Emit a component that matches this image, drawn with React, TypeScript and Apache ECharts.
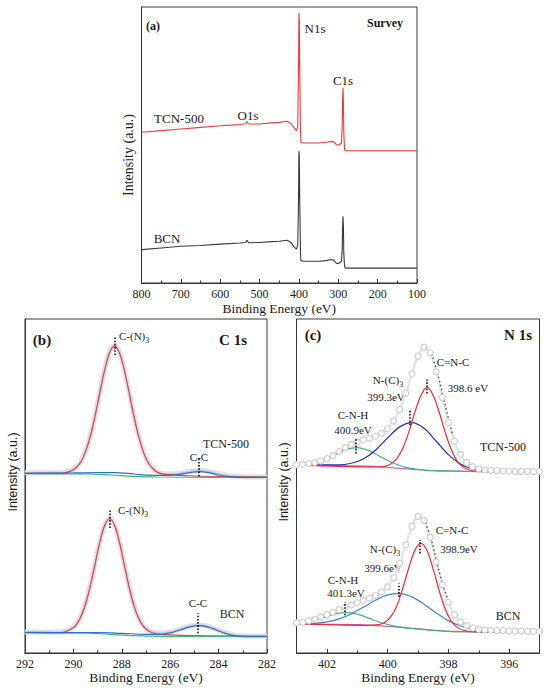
import React, { useEffect, useRef } from "react";
import * as echarts from "echarts";

const SERIF = "Liberation Serif";
const SANS = "Liberation Sans";

// ---------- (a) Survey ----------
const surveyEnergy = [800, 750, 700, 650, 600, 550, 535, 532, 528, 500, 470, 450, 430, 420, 412, 406, 403, 401, 400, 399, 398, 396, 395, 390, 350, 330, 318, 312, 305, 300, 292, 290, 289, 288, 287, 286, 284, 282, 250, 200, 150, 100];
const surveyTCN = [54.6, 55.2, 55.8, 56.4, 57.0, 57.4, 57.7, 58.5, 57.6, 57.6, 58.0, 58.2, 58.6, 57.7, 56.2, 55.2, 56.8, 78.5, 97.8, 95.4, 78.5, 54.3, 51.0, 50.7, 50.7, 51.0, 51.3, 51.2, 50.1, 49.9, 50.7, 56.8, 66.4, 70.7, 66.4, 54.3, 48.3, 47.9, 47.9, 47.9, 47.9, 47.9];
const surveyBCN = [12.1, 12.7, 13.3, 13.6, 14.1, 14.5, 14.7, 15.5, 14.6, 14.7, 15.0, 15.1, 15.5, 14.7, 13.0, 12.3, 13.9, 30.2, 47.7, 45.9, 30.2, 10.9, 8.1, 7.9, 7.9, 8.1, 8.5, 8.3, 7.2, 7.0, 7.9, 12.1, 20.5, 24.2, 20.5, 10.9, 6.0, 5.4, 5.4, 5.4, 5.4, 5.4];
const surveyTicks = [100, 800, 100];

// ---------- (b) C 1s ----------
const c1sRawTop = [[292, 54.0], [291, 54.0], [290.5, 54.0], [290.1, 54.7], [289.9, 55.6], [289.7, 57.3], [289.5, 60.5], [289.3, 65.1], [289.1, 71.3], [288.9, 78.4], [288.7, 85.2], [288.5, 90.2], [288.3, 92.1], [288.1, 90.1], [287.9, 85.0], [287.7, 78.2], [287.5, 71.1], [287.3, 64.9], [287.1, 60.2], [286.9, 57.0], [286.7, 55.2], [286.5, 54.1], [286.2, 53.6], [285.8, 53.7], [285.4, 54.1], [285.0, 54.6], [284.8, 54.7], [284.5, 54.5], [284.1, 53.9], [283.7, 53.2], [283.2, 52.8], [282, 52.7]];
const c1sRedTop = [[292, 53.8], [290.5, 53.8], [290.1, 54.5], [289.9, 55.4], [289.7, 57.1], [289.5, 60.3], [289.3, 64.9], [289.1, 71.1], [288.9, 78.2], [288.7, 85.0], [288.5, 90.0], [288.3, 91.9], [288.1, 89.9], [287.9, 84.8], [287.7, 78.0], [287.5, 70.9], [287.3, 64.7], [287.1, 60.0], [286.9, 56.8], [286.7, 55.1], [286.5, 54.0], [286.2, 53.5], [285, 53.0], [282, 52.7]];
const c1sBlueTop = [[292, 53.8], [290, 53.9], [289, 54.0], [288.3, 54.0], [287.5, 53.6], [286.8, 53.2], [286.2, 53.2], [285.6, 53.5], [285.2, 54.0], [284.8, 54.3], [284.4, 54.0], [284.0, 53.3], [283.5, 52.8], [283, 52.6], [282, 52.6]];
const c1sGreenTop = [[292, 53.7], [289.5, 53.6], [288.5, 53.3], [287.5, 52.9], [286.5, 52.7], [284, 52.6], [282, 52.6]];

const c1sRawBot = [[292, 6.3], [290.5, 6.3], [290.3, 6.7], [290.1, 7.3], [289.9, 8.5], [289.7, 10.9], [289.5, 14.8], [289.3, 20.4], [289.1, 27.0], [288.9, 33.6], [288.7, 38.5], [288.5, 40.4], [288.3, 38.4], [288.1, 33.4], [287.9, 26.7], [287.7, 20.0], [287.5, 14.4], [287.3, 10.5], [287.1, 8.1], [286.9, 6.8], [286.7, 6.2], [286.4, 6.0], [286.0, 6.3], [285.6, 7.1], [285.2, 8.0], [284.85, 8.4], [284.5, 8.1], [284.1, 7.1], [283.7, 6.0], [283.3, 5.3], [282.8, 5.1], [282, 5.1]];
const c1sRedBot = [[292, 6.1], [290.5, 6.1], [290.3, 6.5], [290.1, 7.1], [289.9, 8.3], [289.7, 10.7], [289.5, 14.6], [289.3, 20.2], [289.1, 26.8], [288.9, 33.4], [288.7, 38.3], [288.5, 40.2], [288.3, 38.2], [288.1, 33.2], [287.9, 26.5], [287.7, 19.8], [287.5, 14.2], [287.3, 10.3], [287.1, 7.9], [286.9, 6.6], [286.7, 6.0], [286.4, 5.6], [285, 5.2], [282, 5.0]];
const c1sBlueBot = [[292, 6.2], [290, 6.1], [289, 6.1], [288, 5.9], [287, 5.6], [286.4, 5.6], [286.0, 6.0], [285.6, 6.9], [285.2, 7.8], [284.85, 8.2], [284.5, 7.9], [284.1, 6.9], [283.7, 5.8], [283.3, 5.1], [282.8, 4.9], [282, 4.9]];
const c1sGreenBot = [[292, 6.1], [289.5, 6.0], [288.5, 5.6], [287.5, 5.2], [286.5, 5.0], [284, 5.0], [282, 5.0]];

// ---------- (c) N 1s ----------
const n1sEnergy = [403.0, 402.8, 402.6, 402.4, 402.2, 402.0, 401.8, 401.6, 401.4, 401.2, 401.0, 400.8, 400.6, 400.4, 400.2, 400.0, 399.8, 399.6, 399.4, 399.2, 399.0, 398.8, 398.6, 398.4, 398.2, 398.0, 397.8, 397.6, 397.4, 397.2, 397.0, 396.8, 396.6, 396.4, 396.2, 396.0, 395.8, 395.6, 395.4, 395.2, 395.0];
const n1sRawTop = [56.4, 56.5, 56.7, 57.0, 57.5, 58.2, 59.1, 60.3, 61.5, 62.5, 63.2, 63.8, 64.3, 64.9, 65.8, 67.2, 69.5, 72.9, 77.8, 83.6, 88.9, 91.6, 89.9, 84.2, 76.5, 69.0, 63.4, 59.5, 57.0, 55.8, 55.1, 54.8, 54.7, 54.6, 54.5, 54.5, 54.4, 54.4, 54.4, 54.3, 54.3];
const n1sRawBot = [9.0, 9.2, 9.6, 10.1, 10.8, 11.5, 12.2, 13.0, 13.7, 14.4, 15.1, 15.8, 16.4, 17.2, 18.3, 19.8, 22.5, 26.8, 32.4, 37.9, 40.9, 39.7, 34.6, 27.3, 20.5, 15.2, 11.4, 9.3, 8.2, 7.5, 7.1, 6.9, 6.8, 6.7, 6.7, 6.6, 6.6, 6.6, 6.5, 6.5, 6.5];

const n1sBaseTop = [[403, 56.3], [402, 56.2], [401, 56.0], [400, 55.6], [399.5, 55.2], [399, 54.9], [398.5, 54.6], [398, 54.5], [397, 54.3], [395, 54.2]];
const n1sGreenTop = [[403, 56.4], [402.6, 56.7], [402.2, 57.5], [401.8, 59.0], [401.4, 60.8], [401.0, 61.5], [400.6, 60.5], [400.2, 58.6], [399.8, 56.8], [399.4, 55.6], [399.0, 55.0], [398.5, 54.6], [395, 54.2]];
const n1sBlueTop = [[403, 56.3], [401.6, 56.3], [401.2, 56.8], [400.8, 58.1], [400.4, 60.7], [400.0, 64.4], [399.6, 67.7], [399.2, 69.0], [398.8, 67.3], [398.4, 63.4], [398.0, 59.4], [397.6, 56.6], [397.2, 55.1], [396.8, 54.5], [395, 54.2]];
const n1sRedTop = [[403, 56.3], [400.5, 55.7], [400.1, 55.9], [399.9, 56.6], [399.7, 58.2], [399.5, 61.3], [399.3, 66.2], [399.1, 72.2], [398.9, 77.2], [398.7, 79.5], [398.5, 77.1], [398.3, 72.0], [398.1, 65.9], [397.9, 60.8], [397.7, 57.3], [397.5, 55.6], [397.3, 54.8], [397.0, 54.4], [395, 54.2]];
const n1sFlankTop = [[398.55, 89.5], [398.35, 83.5], [398.15, 76.0], [397.95, 68.5], [397.85, 65.0]];

const n1sBaseBot = [[403, 8.7], [402, 8.6], [401, 8.5], [400.5, 8.3], [400, 8.0], [399.5, 7.6], [399, 7.2], [398.5, 6.8], [398, 6.5], [397.5, 6.4], [397, 6.3], [395, 6.2]];
const n1sGreenBot = [[403, 8.9], [402.75, 9.1], [402.55, 9.45], [402.35, 9.9], [402.15, 10.45], [401.95, 11.05], [401.75, 11.6], [401.55, 12.0], [401.35, 12.1], [401.15, 11.95], [400.95, 11.5], [400.75, 10.9], [400.55, 10.2], [400.35, 9.5], [400.15, 8.9], [399.95, 8.45], [399.75, 8.05], [399.5, 7.7], [399, 7.2], [398, 6.5], [395, 6.2]];
const n1sBlueBot = [[403, 8.75], [402.4, 8.9], [402.0, 9.3], [401.6, 10.2], [401.2, 11.7], [400.8, 13.7], [400.4, 15.8], [400.0, 17.4], [399.6, 17.8], [399.2, 16.8], [398.8, 14.6], [398.4, 12.0], [398.0, 9.7], [397.6, 8.1], [397.2, 7.1], [396.8, 6.6], [396.4, 6.35], [395, 6.2]];
const n1sRedBot = [[403, 8.7], [400.7, 8.3], [400.3, 8.5], [400.1, 9.1], [399.9, 10.8], [399.7, 14.1], [399.5, 19.4], [399.3, 25.6], [399.1, 30.8], [398.9, 32.8], [398.7, 30.6], [398.5, 25.1], [398.3, 18.6], [398.1, 13.1], [397.9, 9.5], [397.7, 7.6], [397.5, 6.8], [397.2, 6.4], [395, 6.2]];
const n1sFlankBot = [[398.75, 39.0], [398.55, 33.5], [398.35, 26.0], [398.15, 19.5], [397.95, 14.5]];

const n1sMajorTicks = [396, 398, 400, 402];
const n1sMinorTicks = [397, 399, 401];

// peak marker segments [energy, yFrom, yTo]
const markC1sTop = [[288.3, 89.2, 94.6], [284.8, 52.9, 58.3]];
const markC1sBot = [[288.5, 37.4, 43.1], [284.85, 5.9, 11.9]];
const markN1sTop = [[398.7, 77.7, 81.9], [399.27, 68.2, 72.7], [401.05, 59.7, 64.2]];
const markN1sBot = [[398.93, 29.8, 33.8], [399.63, 16.8, 20.8], [401.41, 11.3, 15.3]];

const zip = (xs: number[], ys: number[]) => xs.map((x, i) => [x, ys[i]]);

const dotted = (marks: number[][]) => ({
  silent: true,
  symbol: ["none", "none"],
  label: { show: false },
  emphasis: { disabled: true },
  lineStyle: { type: [1.6, 1.6], color: "#111", width: 1.6 },
  data: marks.map(([x, a, b]) => [{ coord: [x, a] }, { coord: [x, b] }]),
});

const line = (name: string, data: any[], xi: number, yi: number, color: string, width = 1.2, extra: any = {}) => ({
  type: "line",
  name,
  data,
  xAxisIndex: xi,
  yAxisIndex: yi,
  showSymbol: false,
  symbol: "none",
  silent: true,
  lineStyle: { color, width },
  itemStyle: { color },
  ...extra,
});

const txt = (text: string, x: number, y: number, size = 11, weight = "normal", align = "center", family = SERIF, rich?: any) => ({
  type: "text",
  x,
  y,
  silent: true,
  style: {
    text,
    fill: "#1a1a1a",
    fontSize: size,
    fontWeight: weight,
    fontFamily: family,
    align,
    textAlign: align,
    verticalAlign: "middle",
    textVerticalAlign: "middle",
    ...(rich ? { rich } : {}),
  },
});

const subRich = {
  n: { fontSize: 11, fontFamily: SERIF, lineHeight: 16, verticalAlign: "middle", fill: "#1a1a1a" },
  s: { fontSize: 8, fontFamily: SERIF, verticalAlign: "bottom", fill: "#1a1a1a" },
};

const vtxt = (text: string, x: number, y: number, size: number, family: string) => ({
  type: "text",
  x,
  y,
  rotation: Math.PI / 2,
  silent: true,
  style: { text, fill: "#1a1a1a", fontSize: size, fontFamily: family, align: "center", textAlign: "center", verticalAlign: "middle", textVerticalAlign: "middle" },
});

const axisCommon = {
  type: "value",
  inverse: true,
  axisLine: { show: true, lineStyle: { color: "#333", width: 1 } },
  axisTick: { show: true, inside: true, length: 4, lineStyle: { color: "#333" } },
  splitLine: { show: false },
  axisLabel: { margin: 5, fontFamily: SERIF, fontSize: 12, color: "#1a1a1a", showMinLabel: true, showMaxLabel: true },
  nameLocation: "middle",
  nameTextStyle: { fontFamily: SERIF, fontSize: 13.5, color: "#1a1a1a" },
};

const yCommon = (gi: number) => ({
  type: "value",
  gridIndex: gi,
  min: 0,
  max: 100,
  axisLine: { show: true, lineStyle: { color: "#333", width: 1 } },
  axisTick: { show: false },
  axisLabel: { show: false },
  splitLine: { show: false },
});

const gridBox = { show: true, borderColor: "#3a3a3a", borderWidth: 1, backgroundColor: "transparent" };

const rawCircles = (name: string, ys: number[]) => ({
  type: "line",
  name,
  data: zip(n1sEnergy, ys),
  xAxisIndex: 2,
  yAxisIndex: 2,
  symbol: "circle",
  symbolSize: 6,
  showSymbol: true,
  silent: true,
  smooth: 0.3,
  lineStyle: { color: "#e6e6e6", width: 2.5 },
  itemStyle: { color: "#ffffff", borderColor: "#cccccc", borderWidth: 1.1 },
});

const option: any = {
  animation: false,
  backgroundColor: "#ffffff",
  textStyle: { fontFamily: SERIF },
  grid: [
    { ...gridBox, left: 141.5, top: 7, width: 275.5, height: 276 },
    { ...gridBox, left: 25, top: 319, width: 242, height: 334 },
    { ...gridBox, left: 296.5, top: 319, width: 243, height: 334 },
  ],
  xAxis: [
    {
      ...axisCommon,
      gridIndex: 0,
      min: surveyTicks[0],
      max: surveyTicks[1],
      interval: surveyTicks[2],
      minorTick: { show: true, splitNumber: 2, length: 2.5, lineStyle: { color: "#333" } },
      name: "Binding Energy (eV)",
      nameGap: 18,
    },
    {
      ...axisCommon,
      gridIndex: 1,
      min: 282,
      max: 292,
      interval: 2,
      minorTick: { show: true, splitNumber: 2, length: 2.5, lineStyle: { color: "#333" } },
      name: "Binding Energy (eV)",
      nameGap: 17,
    },
    {
      ...axisCommon,
      gridIndex: 2,
      min: 395,
      max: 403,
      axisTick: { ...axisCommon.axisTick, customValues: n1sMajorTicks },
      axisLabel: { ...axisCommon.axisLabel, customValues: n1sMajorTicks },
      name: "Binding Energy (eV)",
      nameGap: 17,
    },
    {
      type: "value",
      inverse: true,
      gridIndex: 2,
      position: "bottom",
      min: 395,
      max: 403,
      axisLine: { show: false },
      axisTick: { show: true, inside: true, length: 2.5, lineStyle: { color: "#333" }, customValues: n1sMinorTicks },
      axisLabel: { show: false },
      splitLine: { show: false },
    },
  ],
  yAxis: [yCommon(0), yCommon(1), yCommon(2)],
  series: [
    // (a)
    line("TCN-500 survey", zip(surveyEnergy, surveyTCN), 0, 0, "#f03a3a", 1.1),
    line("BCN survey", zip(surveyEnergy, surveyBCN), 0, 0, "#3a3a3a", 1.1),
    // (b) top
    line("C1s TCN raw", c1sRawTop, 1, 1, "#e0e0e0", 5, { smooth: 0.35 }),
    line("C1s TCN fit", c1sRawTop, 1, 1, "#c4b8ee", 1, { smooth: 0.35 }),
    line("C1s TCN C-(N)3", c1sRedTop, 1, 1, "#e8404a", 1.2, { smooth: 0.35, markLine: dotted(markC1sTop) }),
    line("C1s TCN bg", c1sGreenTop, 1, 1, "#3cb878", 1.2, { smooth: 0.35 }),
    line("C1s TCN C-C", c1sBlueTop, 1, 1, "#2c6fc4", 1.2, { smooth: 0.35 }),
    // (b) bottom
    line("C1s BCN raw", c1sRawBot, 1, 1, "#e0e0e0", 5, { smooth: 0.35 }),
    line("C1s BCN fit", c1sRawBot, 1, 1, "#c4b8ee", 1, { smooth: 0.35 }),
    line("C1s BCN C-(N)3", c1sRedBot, 1, 1, "#e8404a", 1.2, { smooth: 0.35, markLine: dotted(markC1sBot) }),
    line("C1s BCN bg", c1sGreenBot, 1, 1, "#3cb878", 1.2, { smooth: 0.35 }),
    line("C1s BCN C-C", c1sBlueBot, 1, 1, "#2c6fc4", 1.2, { smooth: 0.35 }),
    // (c) raw circles
    rawCircles("N1s TCN raw", n1sRawTop),
    rawCircles("N1s BCN raw", n1sRawBot),
    line("N1s TCN envelope", n1sFlankTop, 2, 2, "#444", 1.4, { smooth: 0.3, lineStyle: { color: "#555", width: 1.4, type: [1.5, 2.5] } }),
    line("N1s BCN envelope", n1sFlankBot, 2, 2, "#444", 1.4, { smooth: 0.3, lineStyle: { color: "#555", width: 1.4, type: [1.5, 2.5] } }),
    // (c) top components
    line("N1s TCN baseline", n1sBaseTop, 2, 2, "#bb66d8", 1.2, { smooth: 0.35 }),
    line("N1s TCN C-N-H", n1sGreenTop, 2, 2, "#3fb27a", 1.2, { smooth: 0.35 }),
    line("N1s TCN N-(C)3", n1sBlueTop, 2, 2, "#2a2ab5", 1.2, { smooth: 0.35 }),
    line("N1s TCN C=N-C", n1sRedTop, 2, 2, "#ec2a36", 1.2, { smooth: 0.35, markLine: dotted(markN1sTop) }),
    // (c) bottom components
    line("N1s BCN baseline", n1sBaseBot, 2, 2, "#bb66d8", 1.2, { smooth: 0.35 }),
    line("N1s BCN C-N-H", n1sGreenBot, 2, 2, "#3fb27a", 1.2, { smooth: 0.35 }),
    line("N1s BCN N-(C)3", n1sBlueBot, 2, 2, "#3a85cf", 1.2, { smooth: 0.35 }),
    line("N1s BCN C=N-C", n1sRedBot, 2, 2, "#ec2a36", 1.2, { smooth: 0.35, markLine: dotted(markN1sBot) }),
  ],
  graphic: [
    // y titles
    vtxt("Intensity (a.u.)", 128, 155, 14, SERIF),
    vtxt("Intensity (a.u.)", 13, 472, 12.5, SANS),
    vtxt("Intensity (a.u.)", 284, 482, 12.5, SANS),
    // (a)
    txt("(a)", 153, 26, 12, "bold"),
    txt("Survey", 385, 23, 12, "bold"),
    txt("N1s", 315, 28, 13),
    txt("C1s", 343, 80, 13),
    txt("O1s", 248, 115, 13),
    txt("TCN-500", 179, 118, 13),
    txt("BCN", 167, 238, 13),
    // (b)
    txt("(b)", 42, 340, 15, "bold"),
    txt("C 1s", 233, 340, 15, "bold"),
    txt("{n|C-(N)}{s|3}", 119, 336, 11, "normal", "left", SERIF, subRich),
    txt("TCN-500", 226, 444, 12),
    txt("C-C", 199, 457, 11),
    txt("{n|C-(N)}{s|3}", 118, 510, 11, "normal", "left", SERIF, subRich),
    txt("C-C", 198, 603, 11),
    txt("BCN", 232, 614, 12),
    // (c)
    txt("(c)", 313, 335, 15, "bold"),
    txt("N 1s", 518, 335, 15, "bold"),
    txt("C=N-C", 453, 362, 11),
    txt("398.6 eV", 468, 388, 11),
    txt("{n|N-(C)}{s|3}", 388, 380, 11, "normal", "center", SERIF, subRich),
    txt("399.3eV", 386, 397, 11),
    txt("C-N-H", 353, 415, 11),
    txt("400.9eV", 353, 430, 11),
    txt("TCN-500", 503, 447, 12),
    txt("C=N-C", 452, 530, 11),
    txt("398.9eV", 459, 549, 11),
    txt("{n|N-(C)}{s|3}", 385, 549, 11, "normal", "center", SERIF, subRich),
    txt("399.6eV", 383, 568, 11),
    txt("C-N-H", 343, 580, 11),
    txt("401.3eV", 346, 593, 11),
    txt("BCN", 508, 616, 12),
  ],
};

export default function App() {
  const ref = useRef<HTMLDivElement>(null);
  useEffect(() => {
    const chart = echarts.init(ref.current as HTMLDivElement, null, { renderer: "svg" });
    chart.setOption(option);
    return () => chart.dispose();
  }, []);
  return (
    <div
      ref={ref}
      style={{ position: "absolute", left: 0, top: 0, width: 550, height: 688, background: "#ffffff" }}
    />
  );
}
